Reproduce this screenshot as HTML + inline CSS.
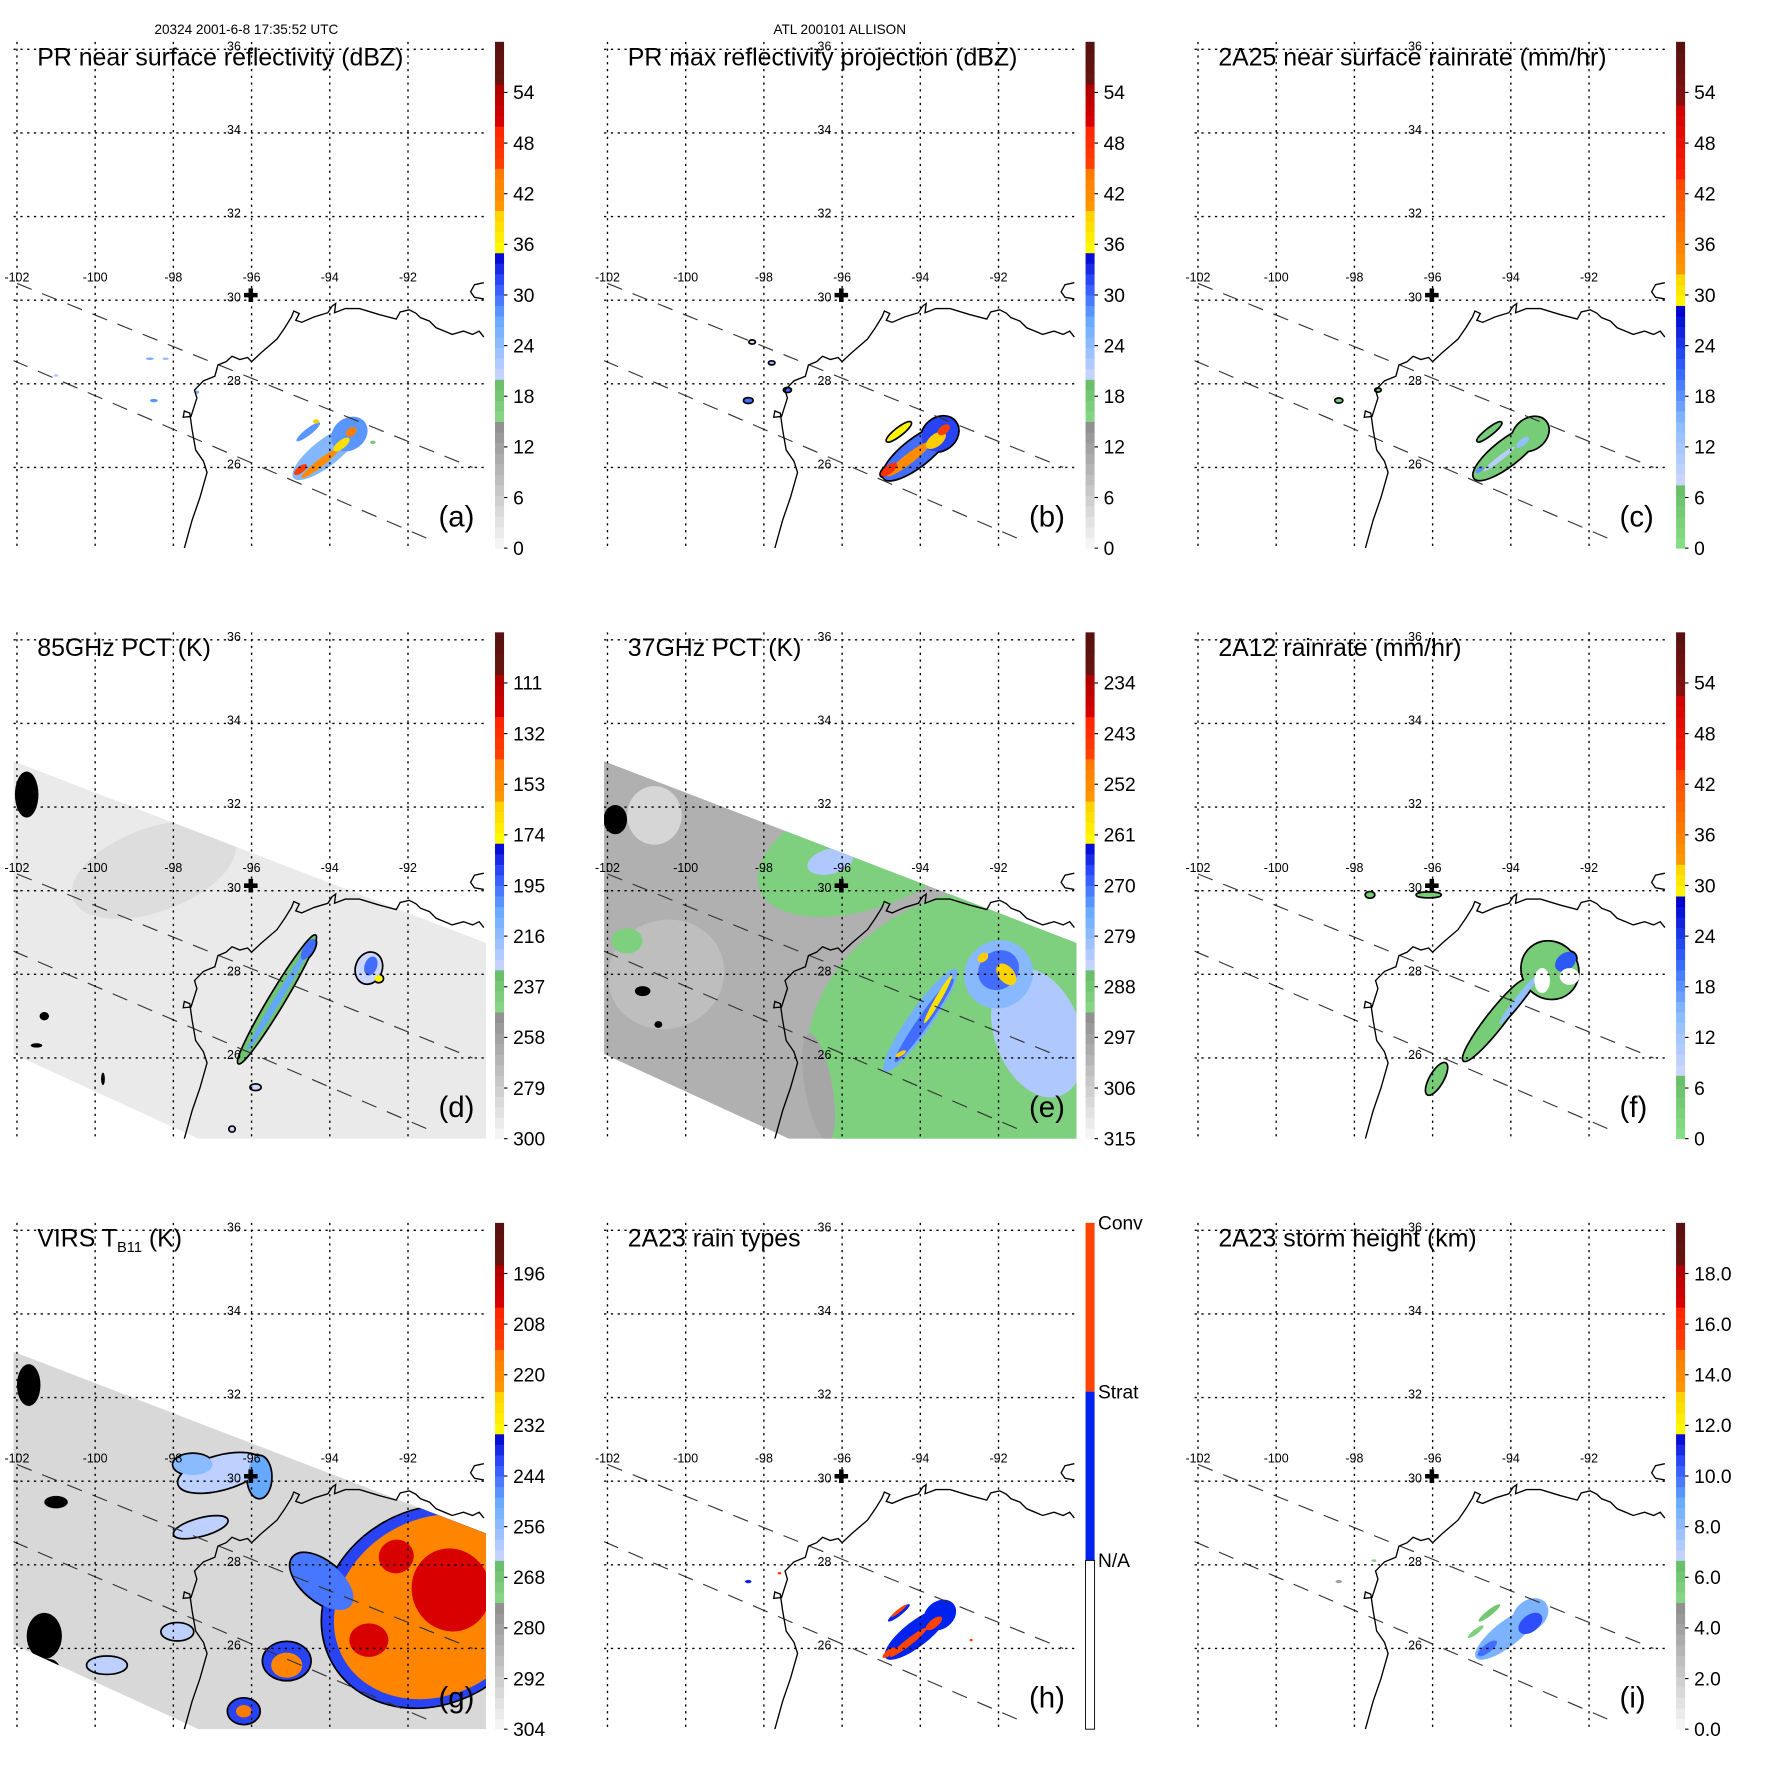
<!DOCTYPE html>
<html><head><meta charset="utf-8"><style>
html,body{margin:0;padding:0;background:#fff}
svg{display:block;font-family:"Liberation Sans",sans-serif}
</style></head><body>
<svg id="fig" xmlns="http://www.w3.org/2000/svg" width="1771" height="1771" viewBox="0 0 1567 1567">
<rect width="1567" height="1567" fill="#fff"/>
<text x="218" y="30" font-size="12" text-anchor="middle">20324 2001-6-8 17:35:52 UTC</text>
<text x="743" y="30" font-size="12" text-anchor="middle">ATL 200101 ALLISON</text>
<defs id="defs"><clipPath id="mapclip"><rect x="12" y="37" width="418" height="448"/></clipPath></defs>
</svg>
<script>
// ---- data: cells [lon, lat, rxDeg, ryDeg, angle, value] ----
const cellsA=[[-94.1,26.35,1.05,0.32,-38,25],[-93.5,26.8,0.5,0.38,-38,28],[-94.55,26.85,0.38,0.08,-38,28],[-94.25,26.1,0.6,0.09,-38,42],[-93.7,26.55,0.25,0.1,-38,38],[-94.75,25.95,0.2,0.08,-38,46],[-93.45,26.85,0.15,0.1,-38,44],[-94.35,27.1,0.08,0.05,0,40],[-98.6,28.6,0.1,0.03,0,26],[-98.2,28.6,0.08,0.03,0,24],[-98.5,27.6,0.1,0.04,0,28],[-101.0,28.2,0.06,0.03,0,22],[-97.4,27.8,0.06,0.04,0,26],[-92.9,26.6,0.07,0.04,0,18]];
const cellsB=[[-94.1,26.35,1.05,0.32,-38,30],[-93.5,26.8,0.5,0.38,-38,32],[-94.55,26.85,0.38,0.08,-38,36],[-94.3,26.2,0.7,0.12,-38,42],[-93.6,26.65,0.3,0.15,-38,40],[-94.8,25.95,0.25,0.1,-38,48],[-93.4,26.9,0.18,0.1,-38,46],[-98.4,27.6,0.1,0.05,0,30],[-97.4,27.85,0.08,0.04,0,30],[-97.8,28.5,0.06,0.03,0,24],[-98.3,29.0,0.06,0.03,0,20]];
const cellsC=[[-94.1,26.35,1.05,0.3,-38,4],[-93.5,26.8,0.5,0.36,-38,4],[-94.55,26.85,0.38,0.07,-38,4],[-94.3,26.2,0.5,0.06,-38,10],[-93.7,26.6,0.2,0.08,-38,14],[-94.8,25.95,0.12,0.06,-38,18],[-98.4,27.6,0.08,0.04,0,4],[-97.4,27.85,0.06,0.03,0,4]];
const cellsD=[[-98.5,30.5,2.2,1.0,-20,287],[-95.35,27.4,1.9,0.17,-59,235],[-95.3,27.45,1.6,0.08,-59,205],[-94.55,28.6,0.3,0.12,-59,195],[-93.0,28.15,0.4,0.3,-70,230],[-92.95,28.2,0.25,0.15,-70,195],[-92.75,27.9,0.1,0.08,0,175],[-95.9,25.3,0.12,0.06,0,230],[-96.5,24.3,0.06,0.05,0,230],[-101.75,32.3,0.3,0.55,0,-1],[-101.3,27.0,0.12,0.1,0,-1],[-101.5,26.3,0.15,0.05,0,-1],[-99.8,25.5,0.05,0.15,0,-1]];
const cellsE=[[-100.5,28.0,1.5,1.3,-20,303],[-100.8,31.8,0.7,0.7,0,308],[-95.3,31.0,3.0,1.4,-20,290],[-92.4,26.4,4.6,3.6,-20,290],[-101.5,28.8,0.4,0.3,0,290],[-96.6,25.3,0.35,1.3,-10,298],[-91.0,26.6,1.1,1.6,-20,282],[-96.3,30.7,0.6,0.3,-15,282],[-94.0,26.9,1.6,0.28,-55,276],[-93.9,26.9,1.3,0.14,-55,270],[-92.0,28.0,0.9,0.8,-40,278],[-92.0,28.1,0.55,0.45,-40,270],[-93.55,27.4,0.7,0.07,-60,258],[-91.8,28.0,0.2,0.3,-40,256],[-92.4,28.4,0.15,0.1,-40,255],[-94.5,26.1,0.15,0.05,-30,255],[-101.8,31.7,0.3,0.35,0,-1],[-101.1,27.6,0.2,0.12,0,-1],[-100.7,26.8,0.1,0.08,0,-1]];
const cellsF=[[-94.4,26.9,1.3,0.2,-52,4],[-93.0,28.1,0.7,0.7,-40,4],[-95.9,25.5,0.45,0.15,-60,4],[-94.6,26.6,0.3,0.08,-55,4],[-93.8,27.4,0.8,0.08,-52,14],[-92.6,28.3,0.3,0.2,-40,22],[-96.1,29.9,0.3,0.05,0,4],[-97.6,29.9,0.1,0.06,0,4],[-93.2,27.85,0.2,0.3,0,-2],[-92.5,27.95,0.25,0.2,0,-2]];
const cellsG=[[-91.4,27.0,2.9,2.3,-30,240],[-91.3,27.0,2.7,2.1,-30,218],[-90.9,27.4,1.0,1.0,-20,203],[-92.3,28.2,0.45,0.4,-20,203],[-93.0,26.2,0.5,0.4,0,203],[-94.2,27.6,0.5,0.9,-50,245],[-95.1,25.7,0.6,0.45,0,240],[-95.1,25.6,0.4,0.3,0,218],[-96.2,24.5,0.4,0.3,0,240],[-96.2,24.5,0.2,0.15,0,215],[-96.8,30.2,1.1,0.4,-15,262],[-97.5,30.4,0.5,0.25,0,255],[-95.8,30.1,0.3,0.5,0,250],[-97.3,28.9,0.7,0.2,-15,262],[-97.9,26.4,0.4,0.2,0,262],[-99.7,25.6,0.5,0.2,0,262],[-101.7,32.3,0.3,0.5,0,-1],[-101.3,26.3,0.45,0.55,0,-1],[-101.2,25.5,0.3,0.25,0,-1],[-101.0,29.5,0.3,0.15,0,-1]];
const cellsH=[[-94.1,26.35,1.0,0.3,-38,1],[-93.5,26.8,0.45,0.33,-38,1],[-94.55,26.85,0.35,0.07,-38,1],[-94.3,26.15,0.6,0.08,-38,2],[-93.65,26.6,0.25,0.1,-38,2],[-94.8,25.9,0.2,0.07,-38,2],[-94.55,26.9,0.25,0.04,-38,2],[-98.4,27.6,0.08,0.04,0,1],[-97.6,27.8,0.05,0.03,0,2],[-92.7,26.2,0.04,0.03,0,2]];
const cellsI=[[-94.1,26.35,1.0,0.3,-38,8.5],[-93.5,26.8,0.5,0.36,-38,8.5],[-94.55,26.85,0.35,0.07,-38,6],[-93.5,26.6,0.35,0.2,-38,10.5],[-94.6,26.0,0.3,0.1,-38,10],[-94.9,26.4,0.25,0.06,-38,5.5],[-98.4,27.6,0.08,0.04,0,4],[-97.5,28.1,0.06,0.03,0,5.5]];
const ticksRef=['0','6','12','18','24','30','36','42','48','54'];
const ticksD=['300','279','258','237','216','195','174','153','132','111'];
const ticksE=['315','306','297','288','279','270','261','252','243','234'];
const ticksG=['304','292','280','268','256','244','232','220','208','196'];
const ticksI=['0.0','2.0','4.0','6.0','8.0','10.0','12.0','14.0','16.0','18.0'];
const lonTicks=[-102,-100,-98,-96,-94,-92];
const latTicks=[36,34,32,30,28,26];
const coast=[[-97.72,24.07],[-97.52,24.74],[-97.32,25.28],[-97.14,25.88],[-97.23,26.15],[-97.43,26.42],[-97.52,26.9],[-97.58,27.3],[-97.72,27.35],[-97.75,27.2],[-97.55,27.22],[-97.4,27.66],[-97.46,27.85],[-97.23,28.07],[-96.94,28.18],[-96.86,28.45],[-96.65,28.53],[-96.5,28.66],[-96.3,28.58],[-96.1,28.63],[-96.0,28.53],[-95.76,28.74],[-95.35,29.07],[-95.15,29.34],[-94.98,29.6],[-94.92,29.74],[-94.78,29.68],[-94.87,29.52],[-94.72,29.47],[-94.4,29.6],[-94.05,29.7],[-93.94,29.86],[-93.85,29.92],[-93.88,29.7],[-93.6,29.8],[-93.24,29.8],[-92.75,29.66],[-92.3,29.55],[-92.2,29.72],[-91.97,29.77],[-91.8,29.69],[-91.68,29.58],[-91.45,29.5],[-91.28,29.34],[-91.07,29.26],[-90.87,29.18],[-90.58,29.26],[-90.35,29.18],[-90.18,29.26],[-90.06,29.12]];
const lake=[[-90.06,30.42],[-90.3,30.37],[-90.4,30.2],[-90.3,30.07],[-90.06,30.03]];
const swathTrack1=[[-102,30.4],[-90.35,26.0]];
const swathTrack2=[[-102.1,28.56],[-91.5,24.3]];
const gmiSwath=[[-102.1,33.1],[-90.0,28.75],[-90.0,24.0],[-97.2,24.0],[-102.1,26.1]];
const site=[-96.02,30.12];

const stopsA=[[0,'#f8f8f8'],[0.25,'#8c8c8c'],[0.2501,'#8ad98a'],[0.333,'#66bb66'],[0.3331,'#ccd6ff'],[0.45,'#66aaff'],[0.52,'#3355ff'],[0.583,'#0000cc'],[0.5831,'#ffff00'],[0.667,'#ffcc00'],[0.6671,'#ff9900'],[0.75,'#ff7700'],[0.7501,'#ff4400'],[0.833,'#ff2200'],[0.8331,'#dd0000'],[0.917,'#aa0000'],[0.9171,'#6a1410'],[1,'#551010']];
const stopsC=[[0,'#88e088'],[0.13,'#66bb66'],[0.1301,'#ccd6ff'],[0.25,'#88bbff'],[0.35,'#3366ff'],[0.47,'#0000cc'],[0.4701,'#ffff00'],[0.55,'#ffcc00'],[0.5501,'#ff9900'],[0.73,'#ff4400'],[0.7301,'#ff2200'],[0.88,'#cc0000'],[0.8801,'#881010'],[1,'#551010']];

const NS='http://www.w3.org/2000/svg';
const svg=document.getElementById('fig');
const defs=document.getElementById('defs');
const px=lon=>15+(lon+102)*34.6;
const py=lat=>43.6+(36-lat)*37;
function hex(c){return [parseInt(c.slice(1,3),16),parseInt(c.slice(3,5),16),parseInt(c.slice(5,7),16)];}
function cmap(stops,f){f=Math.max(0,Math.min(1,f));for(let i=1;i<stops.length;i++){if(f<=stops[i][0]){const a=stops[i-1],b=stops[i];const t=(f-a[0])/((b[0]-a[0])||1);const A=hex(a[1]),B=hex(b[1]);return 'rgb('+A.map((v,k)=>Math.round(v+(B[k]-v)*t)).join(',')+')';}}return stops[stops.length-1][1];}
function mk(tag,attrs,parent){const e=document.createElementNS(NS,tag);for(const k in attrs)e.setAttribute(k,attrs[k]);parent.appendChild(e);return e;}
function pts(arr){return arr.map(p=>px(p[0]).toFixed(1)+','+py(p[1]).toFixed(1)).join(' ');}

const swathClip=mk('clipPath',{id:'swclip'},defs);
mk('polygon',{points:pts(gmiSwath)},swathClip);

const panels=[
 {id:'a',col:0,row:0,title:'PR near surface reflectivity (dBZ)',cells:cellsA,stops:stopsA,bot:0,top:60,ticks:ticksRef,outline:null,swath:null},
 {id:'b',col:1,row:0,title:'PR max reflectivity projection (dBZ)',cells:cellsB,stops:stopsA,bot:0,top:60,ticks:ticksRef,outline:0,swath:null},
 {id:'c',col:2,row:0,title:'2A25 near surface rainrate (mm/hr)',cells:cellsC,stops:stopsC,bot:0,top:60,ticks:ticksRef,outline:0,swath:null},
 {id:'d',col:0,row:1,title:'85GHz PCT (K)',cells:cellsD,stops:stopsA,bot:300,top:90,ticks:ticksD,outline:0.2,swath:293},
 {id:'e',col:1,row:1,title:'37GHz PCT (K)',cells:cellsE,stops:stopsA,bot:315,top:225,ticks:ticksE,outline:null,swath:300},
 {id:'f',col:2,row:1,title:'2A12 rainrate (mm/hr)',cells:cellsF,stops:stopsC,bot:0,top:60,ticks:ticksRef,outline:0,swath:null},
 {id:'g',col:0,row:2,title:'VIRS',cells:cellsG,stops:stopsA,bot:304,top:184,ticks:ticksG,outline:0.25,swath:295},
 {id:'h',col:1,row:2,title:'2A23 rain types',cells:cellsH,stops:null,bot:0,top:3,ticks:null,outline:null,swath:null},
 {id:'i',col:2,row:2,title:'2A23 storm height (km)',cells:cellsI,stops:stopsA,bot:0,top:20,ticks:ticksI,outline:null,swath:null}
];
function colorOf(p,v){
 if(v===-1)return '#000';
 if(v===-2)return '#fff';
 if(!p.stops)return v===2?'#ff4400':'#0022ee';
 return cmap(p.stops,(v-p.bot)/(p.top-p.bot));
}
panels.forEach(p=>{
 const g=mk('g',{transform:'translate('+(p.col*522.5)+','+(p.row*522.5)+')'},svg);
 
 
 const map=mk('g',{'clip-path':'url(#mapclip)'},g);
 
 
 let layer=map;
 if(p.swath!==null){
  const s=mk('polygon',{points:pts(gmiSwath),fill:colorOf(p,p.swath)},map);
  
  
  layer=mk('g',{'clip-path':'url(#swclip)'},map);
  
  
 }
 const ell=(c,extra)=>{const a={cx:px(c[0]).toFixed(1),cy:py(c[1]).toFixed(1),rx:(c[2]*34.6).toFixed(1),ry:(c[3]*37).toFixed(1),transform:'rotate('+c[4]+' '+px(c[0]).toFixed(1)+' '+py(c[1]).toFixed(1)+')'};for(const k in extra)a[k]=extra[k];return a;};
 if(p.outline!==null){p.cells.forEach(c=>{const f=(c[5]-p.bot)/(p.top-p.bot);if(c[5]>=0&&f>=p.outline){const o=mk('ellipse',ell(c,{fill:'#000',stroke:'#000','stroke-width':3}),layer);}});}
 p.cells.forEach(c=>{const e=mk('ellipse',ell(c,{fill:colorOf(p,c[5])}),layer);});
 lonTicks.forEach(l=>{const x=px(l);const ln=mk('line',{x1:x,y1:37,x2:x,y2:485,stroke:'#000','stroke-width':1.2,'stroke-dasharray':'2,4'},g);
  const t=mk('text',{x:x,y:249,'font-size':11,'text-anchor':'middle'},g);t.textContent=String(l);});
 latTicks.forEach(l=>{const y=py(l);const ln=mk('line',{x1:12,y1:y,x2:430,y2:y,stroke:'#000','stroke-width':1.2,'stroke-dasharray':'2,4'},g);
  const t=mk('text',{x:207,y:y+1,'font-size':11,'text-anchor':'middle'},g);t.textContent=String(l);});
 [swathTrack1,swathTrack2].forEach(tr=>{const d=mk('polyline',{points:pts(tr),fill:'none',stroke:'#333','stroke-width':1,'stroke-dasharray':'14,10'},map);});
 const cl=mk('polyline',{points:pts(coast),fill:'none',stroke:'#000','stroke-width':1.2},map);
 
 
 const lk=mk('polyline',{points:pts(lake),fill:'none',stroke:'#000','stroke-width':1.2},map);
 
 
 const sx=px(site[0]),sy=py(site[1]);
 const cr=mk('path',{d:'M'+(sx-6)+' '+sy+'h12M'+sx+' '+(sy-6)+'v12',stroke:'#000','stroke-width':4},g);
 
 
 const tt=mk('text',{x:33,y:58,'font-size':22},g);
 
 
 if(p.id==='g'){tt.textContent='VIRS T';const s=mk('tspan',{'font-size':13,dy:5},tt);s.textContent='B11';const s2=mk('tspan',{dy:-5},tt);s2.textContent=' (K)';}
 else tt.textContent=p.title;
 const lb=mk('text',{x:388,y:466,'font-size':26},g);
 lb.textContent='('+p.id+')';
 
 
 const cb=mk('g',{},g);
 
 
 const cbT=37,cbB=485,cbX=438,cbW=8;
 if(p.stops){
  const n=48;
  for(let i=0;i<n;i++){const f=(i+0.5)/n;const y=cbB-(i+1)*(cbB-cbT)/n;mk('rect',{x:cbX,y:y.toFixed(2),width:cbW,height:((cbB-cbT)/n+0.4).toFixed(2),fill:cmap(p.stops,f)},cb);}
  p.ticks.forEach((t,k)=>{const y=cbB-k/10*(cbB-cbT);mk('line',{x1:cbX+cbW,y1:y,x2:cbX+cbW+3,y2:y,stroke:'#000','stroke-width':1},cb);
   const tx=mk('text',{x:cbX+16,y:y+6,'font-size':17},cb);tx.textContent=t;});
 } else {
  const h=(cbB-cbT)/3;
  mk('rect',{x:cbX,y:cbT,width:cbW,height:h,fill:'#ff4400'},cb);
  mk('rect',{x:cbX,y:cbT+h,width:cbW,height:h,fill:'#0022ee'},cb);
  mk('rect',{x:cbX,y:cbT+2*h,width:cbW,height:h,fill:'#fff',stroke:'#000','stroke-width':0.8},cb);
  ['Conv','Strat','N/A'].forEach((t,k)=>{const tx=mk('text',{x:cbX+11,y:cbT+k*h+6,'font-size':17},cb);tx.textContent=t;});
 }
});
</script>
</body></html>
